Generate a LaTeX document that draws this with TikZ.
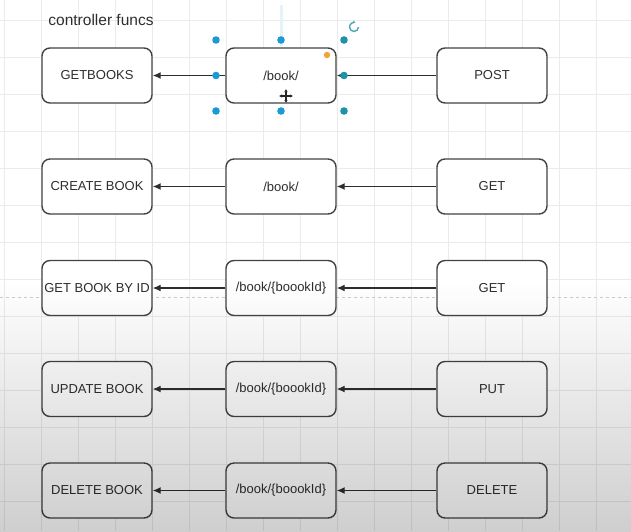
\documentclass[tikz,border=0pt]{standalone}
\usepackage{fontspec}
\setmainfont{Liberation Sans}
\usetikzlibrary{arrows.meta}
\definecolor{ink}{HTML}{2E2E2E}
\definecolor{gridc}{HTML}{EBEBEB}
\definecolor{handle}{HTML}{1C9AD6}
\definecolor{handleb}{HTML}{1E93A6}
\definecolor{orangeh}{HTML}{F2A33A}
\tikzset{
  box/.style={draw=ink!90, line width=1.4pt, rounded corners=8pt, fill=white,
    minimum width=110pt, minimum height=55pt, inner sep=0pt, text=ink,
    font=\fontsize{13}{15}\selectfont},
  conn/.style={draw=ink, line width=1.3pt, -{Latex[length=8pt,width=7pt]}},
  dot/.style={fill=handle, draw=none},
  dotb/.style={fill=handleb, draw=none},
}
\begin{document}
\begin{tikzpicture}[x=1pt,y=-1pt]
\useasboundingbox (0,0) rectangle (631,531);
\fill[white] (0,0) rectangle (631,531);
% grid
\foreach \k in {0,...,17} {\draw[gridc, line width=0.9pt] (4+37*\k,0) -- (4+37*\k,531);}
\foreach \k in {0,...,14} {\draw[gridc, line width=0.9pt] (0,20+37*\k) -- (631,20+37*\k);}
\draw[gray!40, dashed, line width=0.7pt] (0,297) -- (631,297);
% guide line
\draw[handle!12, line width=3pt] (281,5) -- (281,46);
% title
\node[text=ink, font=\fontsize{15.5}{18}\selectfont] (title) at (101,20) {controller funcs};
% boxes
\node[box] (getbooks) at (97,75.5) {GETBOOKS};
\node[box] (b1) at (281,75.5) {/book/};
\node[box] (post) at (492,75.5) {POST};
\node[box] (create) at (97,186.5) {CREATE BOOK};
\node[box] (b2) at (281,186.5) {/book/};
\node[box] (get1) at (492,186.5) {GET};
\node[box] (getid) at (97,288) {GET BOOK BY ID};
\node[box] (b3) at (281,288) {/book/\{boookId\}};
\node[box] (get2) at (492,288) {GET};
\node[box] (update) at (97,389) {UPDATE BOOK};
\node[box] (b4) at (281,389) {/book/\{boookId\}};
\node[box] (put) at (492,389) {PUT};
\node[box] (delete) at (97,490.5) {DELETE BOOK};
\node[box] (b5) at (281,490.5) {/book/\{boookId\}};
\node[box] (del) at (492,490.5) {DELETE};
% connectors
\foreach \s/\m/\t in {post/b1/getbooks, get1/b2/create, get2/b3/getid, put/b4/update, del/b5/delete} {
  \draw[conn] (\s) -- (\m);
  \draw[conn] (\m) -- (\t);
}
% selection handles
\foreach \p in {(216,40),(281,40),(216,75.5),(216,111),(281,111)} {\fill[dot] \p circle (3.8);}
\foreach \p in {(344,40),(344,75.5),(344,111)} {\fill[dotb] \p circle (3.8);}
\fill[orangeh] (327,55) circle (3.2);
\draw[handleb!80, line width=1.4pt, -{Latex[length=2.5pt,width=3pt]}] (358.5,27) arc (0:290:4.5);
% move icon
\begin{scope}[shift={(286,96)}, line width=1.1pt, black!85]
\draw[{Latex[length=3pt,width=3.5pt]}-{Latex[length=3pt,width=3.5pt]}] (-7,0) -- (7,0);
\draw[{Latex[length=3pt,width=3.5pt]}-{Latex[length=3pt,width=3.5pt]}] (0,-7) -- (0,7);
\end{scope}
% bottom darkening
\shade[blend mode=multiply, top color=white, bottom color=black!19] (0,280) rectangle (631,531);
\end{tikzpicture}
\end{document}
